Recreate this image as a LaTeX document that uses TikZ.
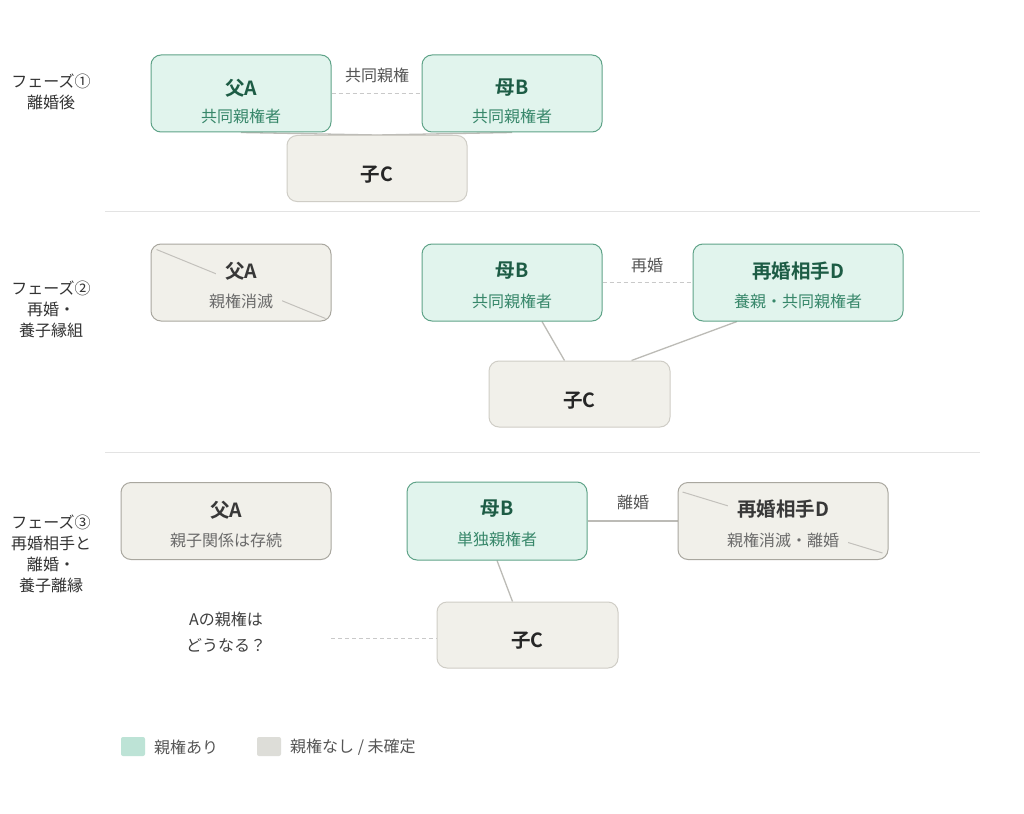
\documentclass[tikz,border=0pt]{standalone}
\usepackage{fontspec}
\setmainfont{Noto Sans CJK JP}[BoldFont={Noto Sans CJK JP Bold}]
\usetikzlibrary{backgrounds}

\definecolor{kenbg}{HTML}{E1F4ED}
\definecolor{kenline}{HTML}{5FA388}
\definecolor{kentitle}{HTML}{1D5C45}
\definecolor{kensub}{HTML}{37876A}
\definecolor{nobg}{HTML}{F1F0EA}
\definecolor{noline}{HTML}{A9A79F}
\definecolor{childline}{HTML}{CFCDC6}
\definecolor{tieline}{HTML}{BCBBB6}
\definecolor{dashline}{HTML}{C9C9C9}
\definecolor{labtext}{HTML}{555555}
\definecolor{legken}{HTML}{BDE3D6}
\definecolor{legno}{HTML}{DDDDD8}

\begin{document}
\begin{tikzpicture}[x=1pt,y=-1pt,
    ken/.style={draw=kenline, fill=kenbg, line width=1pt, rounded corners=10pt,
      minimum width=180pt, minimum height=77pt, inner sep=0pt},
    nokn/.style={draw=noline, fill=nobg, line width=1pt, rounded corners=10pt,
      minimum width=180pt, minimum height=77pt, inner sep=0pt},
    child/.style={draw=childline, fill=nobg, line width=1pt, rounded corners=10pt,
      minimum width=181pt, minimum height=66pt, inner sep=0pt},
    childt/.style={font=\fontsize{19.5pt}{23pt}\selectfont\bfseries, text=black!85},
    ttlk/.style={font=\fontsize{19.5pt}{23pt}\selectfont\bfseries, text=kentitle},
    subk/.style={font=\fontsize{16pt}{20pt}\selectfont, text=kensub},
    ttln/.style={font=\fontsize{19.5pt}{23pt}\selectfont\bfseries, text=black!78},
    subn/.style={font=\fontsize{16pt}{20pt}\selectfont, text=black!58},
    cover/.style={fill=nobg, inner xsep=9pt, inner ysep=8pt},
    strike/.style={draw=noline!70, line width=1pt},
    tie/.style={draw=tieline, line width=1.3pt},
    pair/.style={draw=dashline, line width=1pt, dash pattern=on 4pt off 3pt},
    lab/.style={font=\fontsize{16pt}{20pt}\selectfont, text=labtext},
    phase/.style={font=\fontsize{16pt}{21pt}\selectfont, text=black!80, align=center},
    divider/.style={draw=black!11, line width=1pt},
    legbox/.style={rounded corners=2pt, minimum width=24pt, minimum height=19pt, inner sep=0pt}]
  \useasboundingbox (0,0) rectangle (1024,813);

  % phase 1
  \node[phase] (p1) at (51,92) {フェーズ①\\離婚後};
  \node[ken] (A1) at (241,93.5) {};
  \node[ken] (B1) at (512,93.5) {};
  \node[child, minimum width=180pt] (C1) at (377,168.5) {};
  \node[childt] (C1t) at (377,175) {子C};
  \node[ttlk] (A1t) at (241,88) {父A};
  \node[subk] (A1s) at (241,116) {共同親権者};
  \node[ttlk] (B1t) at (512,88) {母B};
  \node[subk] (B1s) at (512,116) {共同親権者};
  \draw[pair] (A1) -- (B1);
  \node[lab] (l1) at (377,75) {共同親権};

  \draw[divider] (105,211) -- (980,211);

  % phase 2
  \node[phase] (p2) at (51,309) {フェーズ②\\再婚・\\養子縁組};
  \node[nokn] (A2) at (241,282.5) {};
  \draw[strike] ([shift={(6,6)}]A2.north west) -- ([shift={(-6,-3)}]A2.south east);
  \node[ttln, cover] (A2t) at (241,271) {父A};
  \node[subn, cover] (A2s) at (241,301) {親権消滅};
  \node[ken] (B2) at (512,282.5) {};
  \node[ttlk] (B2t) at (512,271) {母B};
  \node[subk] (B2s) at (512,301) {共同親権者};
  \node[ken, minimum width=210pt] (D2) at (798,282.5) {};
  \node[ttlk] (D2t) at (798,271) {再婚相手D};
  \node[subk] (D2s) at (798,301) {養親・共同親権者};
  \node[child] (C2) at (579.5,394) {};
  \node[childt] (C2t) at (579.5,401) {子C};
  \draw[pair] (B2) -- (D2);
  \node[lab] (l2) at (647,265) {再婚};

  \draw[divider] (105,452) -- (980,452);

  % phase 3
  \node[phase] (p3) at (51,554) {フェーズ③\\再婚相手と\\離婚・\\養子離縁};
  \node[nokn, minimum width=210pt] (A3) at (226,521) {};
  \node[ttln] (A3t) at (226,510) {父A};
  \node[subn] (A3s) at (226,540) {親子関係は存続};
  \node[ken, minimum height=78pt] (B3) at (497,521) {};
  \node[ttlk] (B3t) at (497,509) {母B};
  \node[subk] (B3s) at (497,539) {単独親権者};
  \node[nokn, minimum width=210pt] (D3) at (783,521) {};
  \draw[strike] ([shift={(5,10)}]D3.north west) -- ([shift={(-6,-7)}]D3.south east);
  \node[ttln, cover] (D3t) at (783,509) {再婚相手D};
  \node[subn, cover] (D3s) at (783,540) {親権消滅・離婚};
  \node[child] (C3) at (527.5,635) {};
  \node[childt] (C3t) at (527.5,641) {子C};
  \node[lab, text=black!75, align=center, font=\fontsize{16pt}{26pt}\selectfont] (q3) at (226,632) {Aの親権は\\どうなる？};
  \coordinate (q3e) at (331,638);
  \draw[pair] (q3e) -- (C3.west |- q3e);
  \node[lab] (l3) at (633,502) {離婚};

  % legend
  \node[legbox, fill=legken] (k1) at (133,746.5) {};
  \node[lab, anchor=west, inner sep=0pt] (k1t) at (154,747) {親権あり};
  \node[legbox, fill=legno] (k2) at (269,746.5) {};
  \node[lab, anchor=west, inner sep=0pt] (k2t) at (290,747) {親権なし / 未確定};

  \begin{scope}[on background layer]
    \fill[white] (0,0) rectangle (1024,813);
    \draw[tie] (A1.south) -- (C1.north);
    \draw[tie] (B1.south) -- (C1.north);
    \draw[tie] ([xshift=30]B2.south) -- ([xshift=-15]C2.north);
    \draw[tie] ([xshift=-61]D2.south) -- ([xshift=52]C2.north);
    \draw[tie] (B3) -- (D3);
    \draw[tie] (B3.south) -- ([xshift=-15]C3.north);
  \end{scope}
\end{tikzpicture}
\end{document}
